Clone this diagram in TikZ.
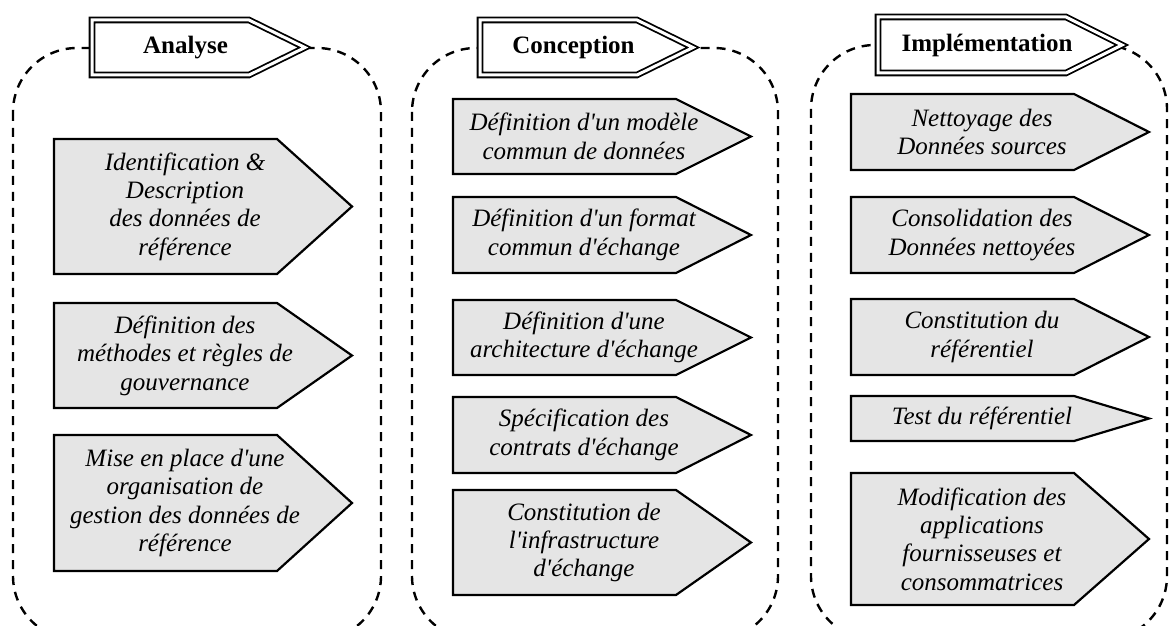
\documentclass[tikz,border=0pt]{standalone}
\usepackage{fontspec}
\setmainfont{Liberation Serif}[Ligatures=TeXOff]
\usetikzlibrary{positioning}

\definecolor{boxgray}{gray}{0.9}

% gray step: name, left x, top y, bottom y, text
\newcommand{\etape}[5]{%
  \filldraw[boxline] (#2,#3) -- ({#2+223},#3) -- ({#2+298},{(#3+#4)/2}) -- ({#2+223},#4) -- (#2,#4) -- cycle;
  \node[boxtext] (#1) at ({#2+131},{(#3+#4)/2}) {#5};
}
% phase title: name, left x, top y, bottom y, width, text
\newcommand{\phase}[6]{%
  \filldraw[phaseline] (#2,#3) -- ({#2+#5-56},#3) -- ({#2+#5},{(#3+#4)/2}) -- ({#2+#5-56},#4) -- (#2,#4) -- cycle;
  \node[phasetext] (#1) at ({#2+#5/2-13},{(#3+#4)/2}) {#6};
}

\begin{document}
\begin{tikzpicture}[x=0.5pt,y=-0.5pt,
  boxline/.style={fill=boxgray, draw=black, line width=1.1pt},
  boxtext/.style={align=center, inner sep=0pt, font=\fontsize{12.5}{14.2}\selectfont\itshape},
  phaseline/.style={fill=white, draw=black, line width=0.9pt, double=white, double distance=1.5pt},
  phasetext/.style={inner sep=0pt, font=\fontsize{12.5}{14}\selectfont\bfseries},
  cadre/.style={draw=black, line width=1.2pt, dash pattern=on 4.5pt off 3.5pt, rounded corners=32pt}]
\clip (0,0) rectangle (1169,626);
%\draw[help lines] (0,0) grid (1169,626);

% dashed frames
\draw [cadre] (13,48) rectangle (381,640);
\draw [cadre] (412,48) rectangle (778,640);
\draw [cadre] (811,45) rectangle (1167,640);

% titles
\phase{analyse}{92}{20}{75}{213}{Analyse}
\phase{conception}{480}{20}{75}{213}{Conception}
\phase{implementation}{878}{17}{73}{244}{Implémentation}

% Analyse
\etape{ana1}{54}{139}{274}{Identification \&\\Description\\des données de\\référence}
\etape{ana2}{54}{303}{408}{Définition des\\méthodes et règles de\\gouvernance}
\etape{ana3}{54}{435}{571}{Mise en place d'une\\organisation de\\gestion des données de\\référence}

% Conception
\etape{con1}{453}{99}{174}{Définition d'un modèle\\commun de données}
\etape{con2}{453}{197}{273}{Définition d'un format\\commun d'échange}
\etape{con3}{453}{300}{375}{Définition d'une\\architecture d'échange}
\etape{con4}{453}{397}{473}{Spécification des\\contrats d'échange}
\etape{con5}{453}{490}{595}{Constitution de\\l'infrastructure\\d'échange}

% Implementation
\etape{imp1}{851}{94}{170}{Nettoyage des\\Données sources}
\etape{imp2}{851}{197}{273}{Consolidation des\\Données nettoyées}
\etape{imp3}{851}{299}{375}{Constitution du\\référentiel}
\etape{imp4}{851}{396}{441}{Test du référentiel}
\etape{imp5}{851}{473}{605}{Modification des\\applications\\fournisseuses et\\consommatrices}

\end{tikzpicture}
\end{document}
